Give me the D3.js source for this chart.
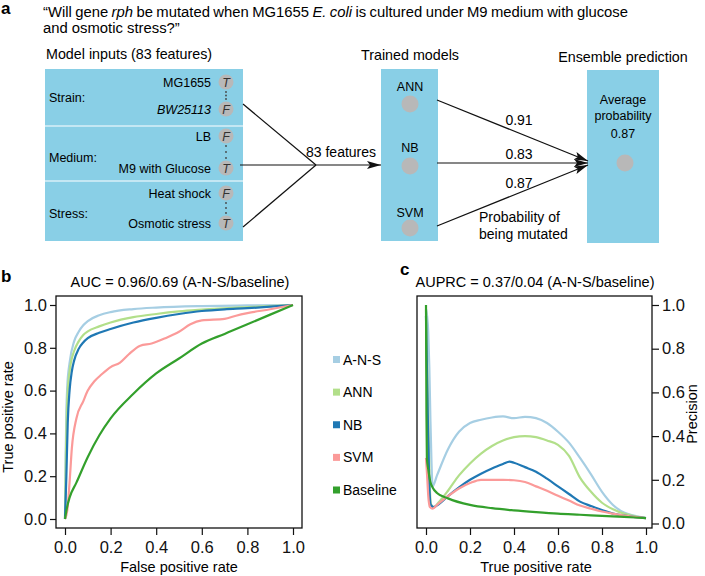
<!DOCTYPE html>
<html><head><meta charset="utf-8">
<script src="https://cdn.jsdelivr.net/npm/d3@7"></script>
<style>
body{margin:0;background:#fff;}
svg{display:block;font-family:"Liberation Sans",Arial,Helvetica,sans-serif;}
</style></head>
<body><svg id="fig" width="705" height="576"></svg>
<script>
// ---------- DATA ----------
const seriesNames = ["A-N-S","ANN","NB","SVM","Baseline"];
const seriesColors = ["#a6cee3","#b2df8a","#1f78b4","#fb9a99","#33a02c"];
const axisTicks = [0,0.2,0.4,0.6,0.8,1.0];
const aucTitle = "AUC = 0.96/0.69 (A-N-S/baseline)";
const auprcTitle = "AUPRC = 0.37/0.04 (A-N-S/baseline)";

// ROC curves: [false positive rate, true positive rate]
const rocANS = [[0,0],[0.003,0.3],[0.006,0.5],[0.01,0.62],[0.02,0.73],[0.04,0.83],[0.06,0.875],[0.08,0.905],[0.1,0.925],[0.15,0.952],[0.2,0.967],[0.3,0.981],[0.4,0.988],[0.6,0.995],[0.8,0.998],[1,1]];
const rocANN = [[0,0],[0.004,0.3],[0.008,0.5],[0.012,0.6],[0.02,0.69],[0.04,0.785],[0.06,0.83],[0.08,0.86],[0.1,0.877],[0.15,0.9],[0.2,0.918],[0.3,0.943],[0.4,0.958],[0.5,0.97],[0.6,0.978],[0.8,0.99],[1,1]];
const rocNB = [[0,0],[0.006,0.2],[0.012,0.45],[0.02,0.6],[0.03,0.69],[0.04,0.74],[0.06,0.795],[0.08,0.825],[0.1,0.845],[0.15,0.87],[0.2,0.888],[0.3,0.918],[0.4,0.94],[0.5,0.958],[0.6,0.972],[0.7,0.98],[0.8,0.985],[0.9,0.992],[1,1]];
const rocSVM = [[0,0],[0.01,0.04],[0.02,0.17],[0.03,0.33],[0.05,0.47],[0.08,0.55],[0.1,0.6],[0.13,0.645],[0.16,0.675],[0.2,0.71],[0.24,0.73],[0.28,0.77],[0.33,0.81],[0.38,0.82],[0.44,0.845],[0.5,0.875],[0.55,0.91],[0.6,0.928],[0.7,0.935],[0.75,0.95],[0.8,0.962],[0.9,0.98],[1,1]];
const rocBaseline = [[0,0],[0.01,0.06],[0.02,0.1],[0.05,0.17],[0.1,0.29],[0.15,0.39],[0.2,0.47],[0.3,0.585],[0.4,0.68],[0.5,0.75],[0.6,0.82],[0.7,0.865],[0.8,0.91],[0.9,0.955],[1,1]];

// PR curves: [true positive rate (recall), precision]
const prANS = [[0,0.98],[0.005,0.95],[0.01,0.88],[0.015,0.72],[0.02,0.48],[0.025,0.28],[0.03,0.17],[0.05,0.22],[0.1,0.34],[0.15,0.42],[0.2,0.46],[0.25,0.475],[0.3,0.485],[0.35,0.49],[0.4,0.482],[0.45,0.488],[0.5,0.482],[0.55,0.46],[0.6,0.42],[0.65,0.37],[0.7,0.3],[0.75,0.225],[0.8,0.145],[0.85,0.085],[0.9,0.05],[0.95,0.035],[1,0.025]];
const prANN = [[0,0.98],[0.008,0.6],[0.015,0.25],[0.022,0.09],[0.035,0.075],[0.06,0.1],[0.1,0.15],[0.15,0.22],[0.2,0.275],[0.25,0.32],[0.3,0.355],[0.35,0.38],[0.4,0.395],[0.45,0.4],[0.5,0.395],[0.55,0.38],[0.6,0.36],[0.65,0.31],[0.7,0.21],[0.75,0.145],[0.8,0.095],[0.85,0.065],[0.9,0.045],[0.95,0.033],[1,0.025]];
const prNB = [[0,0.95],[0.008,0.5],[0.015,0.18],[0.022,0.085],[0.035,0.075],[0.06,0.09],[0.1,0.125],[0.15,0.165],[0.2,0.2],[0.25,0.228],[0.3,0.252],[0.35,0.272],[0.38,0.283],[0.4,0.278],[0.45,0.258],[0.5,0.237],[0.55,0.205],[0.6,0.17],[0.65,0.135],[0.7,0.1],[0.75,0.08],[0.8,0.062],[0.85,0.045],[0.9,0.036],[1,0.025]];
const prSVM = [[0,0.3],[0.005,0.22],[0.01,0.13],[0.018,0.075],[0.03,0.068],[0.05,0.085],[0.1,0.125],[0.15,0.16],[0.2,0.185],[0.25,0.2],[0.3,0.2],[0.35,0.2],[0.4,0.198],[0.45,0.19],[0.5,0.17],[0.55,0.15],[0.6,0.127],[0.65,0.105],[0.7,0.082],[0.75,0.068],[0.8,0.055],[0.85,0.045],[0.9,0.036],[1,0.025]];
const prBaseline = [[0,1.0],[0.002,0.5],[0.004,0.3],[0.01,0.25],[0.02,0.19],[0.03,0.165],[0.05,0.14],[0.1,0.115],[0.2,0.085],[0.3,0.07],[0.4,0.06],[0.5,0.052],[0.6,0.045],[0.7,0.04],[0.8,0.035],[0.9,0.03],[1,0.025]];

const rocSeries = [rocANS, rocANN, rocNB, rocSVM, rocBaseline];
const prSeries = [prANS, prANN, prNB, prSVM, prBaseline];

// Panel a text content
const questionLine1 = [["\u201cWill",0],["gene",0],["rph",1],["be",0],["mutated",0],["when",0],["MG1655",0],["E.",1],["coli",1],["is",0],["cultured",0],["under",0],["M9",0],["medium",0],["with",0],["glucose",0]];
const questionLine2 = "and osmotic stress?\u201d";
const inputGroups = ["Strain:","Medium:","Stress:"];
const inputRows = [
  {label:"MG1655", val:"T", italic:false},
  {label:"BW25113", val:"F", italic:true},
  {label:"LB", val:"F", italic:false},
  {label:"M9 with Glucose", val:"T", italic:false},
  {label:"Heat shock", val:"F", italic:false},
  {label:"Osmotic stress", val:"T", italic:false}
];
const modelNames = ["ANN","NB","SVM"];
const modelProbs = ["0.91","0.83","0.87"];
const ensembleValue = "0.87";

// ---------- DRAW ----------
const svg = d3.select("#fig");
const BLUE = "#89cfe6", GREY = "#b8b8b8";
const TICKFONT = 16.5;

// ===== Panel a =====
svg.append("text").attr("x",1).attr("y",14).attr("font-weight","bold").attr("font-size",17).text("a");
{
  // size the question so the second line spans x 43..180, then justify line 1 to 43..628
  const l2 = svg.append("text").attr("x",43).attr("y",33).attr("font-size",15).text(questionLine2);
  const w2 = l2.node().getComputedTextLength();
  const qs = Math.max(13, Math.min(18, 15 * 137 / w2));
  l2.attr("font-size", qs);
  const x0 = 43, x1 = 628;
  const nodes = questionLine1.map(([w,it]) => svg.append("text").attr("y",17).attr("font-size",qs)
      .attr("font-style", it ? "italic" : null).text(w));
  const widths = nodes.map(n => n.node().getComputedTextLength());
  const gap = Math.max(2, (x1 - x0 - d3.sum(widths)) / (nodes.length - 1));
  let x = x0;
  nodes.forEach((n,i) => { n.attr("x", x); x += widths[i] + gap; });
}

svg.append("text").attr("x",46).attr("y",59).attr("font-size",14.3).text("Model inputs (83 features)");
svg.append("text").attr("x",410).attr("y",60).attr("text-anchor","middle").attr("font-size",14.3).text("Trained models");
svg.append("text").attr("x",623).attr("y",62).attr("text-anchor","middle").attr("font-size",14.3).text("Ensemble prediction");

// left box
svg.append("rect").attr("x",45).attr("y",69).attr("width",198).attr("height",172).attr("fill",BLUE);
[126,181].forEach(y=>svg.append("line").attr("x1",45).attr("x2",243).attr("y1",y).attr("y2",y).attr("stroke","#fff").attr("stroke-width",1.2));
const groupY = [97,157,213];
inputGroups.forEach((g,i)=>svg.append("text").attr("x",49).attr("y",groupY[i]+4.5).attr("font-size",12.5).text(g));
const rowY = [82,109,136,168,193,223];
inputRows.forEach((r,i)=>{
  svg.append("text").attr("x",211).attr("y",rowY[i]+4.5).attr("text-anchor","end").attr("font-size",12.5)
    .attr("font-style",r.italic?"italic":null).text(r.label);
  svg.append("circle").attr("cx",226).attr("cy",rowY[i]).attr("r",7.5).attr("fill",GREY);
  svg.append("text").attr("x",226).attr("y",rowY[i]+4.5).attr("text-anchor","middle").attr("font-size",12.5)
    .attr("font-style","italic").attr("fill","#333").text(r.val);
});
[[0,1],[2,3],[4,5]].forEach(([a,b])=>{
  const y0=rowY[a]+10, y1=rowY[b]-10;
  [0,1,2].forEach(k=>svg.append("circle").attr("cx",226).attr("cy",y0+(y1-y0)*k/2).attr("r",0.9).attr("fill","#444"));
});

// arrowhead marker
const defs = svg.append("defs");
defs.append("marker").attr("id","arr").attr("viewBox","0 0 14 8").attr("refX",14).attr("refY",4)
  .attr("markerWidth",14).attr("markerHeight",8).attr("markerUnits","userSpaceOnUse").attr("orient","auto")
  .append("path").attr("d","M0,0 L14,4 L0,8 L3,4 Z").attr("fill","#111");

const junction = [316,165];
[[243,104],[240,165],[243,227]].forEach(p=>svg.append("line").attr("x1",p[0]).attr("y1",p[1]).attr("x2",junction[0]).attr("y2",junction[1]).attr("stroke","#111").attr("stroke-width",1.2));
svg.append("line").attr("x1",junction[0]).attr("y1",junction[1]).attr("x2",381).attr("y2",165).attr("stroke","#111").attr("stroke-width",1.2).attr("marker-end","url(#arr)");
svg.append("text").attr("x",306).attr("y",157).attr("font-size",14).text("83 features");

// trained models box
svg.append("rect").attr("x",381).attr("y",69).attr("width",57).attr("height",172).attr("fill",BLUE);
const modelTextY = [91,152,217], modelCircY = [104,166,228];
modelNames.forEach((m,i)=>{
  svg.append("text").attr("x",410).attr("y",modelTextY[i]).attr("text-anchor","middle").attr("font-size",12.5).text(m);
  svg.append("circle").attr("cx",410).attr("cy",modelCircY[i]).attr("r",8.5).attr("fill",GREY);
});

// ensemble box
svg.append("rect").attr("x",587).attr("y",70).attr("width",72).attr("height",173).attr("fill",BLUE);
svg.append("text").attr("x",623).attr("y",104).attr("text-anchor","middle").attr("font-size",12.5).text("Average");
svg.append("text").attr("x",623).attr("y",120).attr("text-anchor","middle").attr("font-size",12.5).text("probability");
svg.append("text").attr("x",623).attr("y",138).attr("text-anchor","middle").attr("font-size",12.5).text(ensembleValue);
svg.append("circle").attr("cx",625).attr("cy",163).attr("r",8.5).attr("fill",GREY);

const starts = [[437,100],[437,163],[437,226]];
const tipY = [161,163,165];
starts.forEach((s,i)=>svg.append("line").attr("x1",s[0]).attr("y1",s[1]).attr("x2",588).attr("y2",tipY[i])
  .attr("stroke","#111").attr("stroke-width",1.2).attr("marker-end","url(#arr)"));
const probY = [125,159,188];
modelProbs.forEach((p,i)=>svg.append("text").attr("x",519).attr("y",probY[i]).attr("text-anchor","middle").attr("font-size",14).text(p));
svg.append("text").attr("x",479).attr("y",222).attr("font-size",14).text("Probability of");
svg.append("text").attr("x",479).attr("y",239).attr("font-size",14).text("being mutated");

// ===== Panel b (ROC) =====
const xb = d3.scaleLinear().domain([0,1]).range([65,293]);
const yb = d3.scaleLinear().domain([0,1]).range([519,305]);
svg.append("text").attr("x",1).attr("y",282).attr("font-weight","bold").attr("font-size",17).text("b");
svg.append("text").attr("x",180).attr("y",287).attr("text-anchor","middle").attr("font-size",14.5).text(aucTitle);

function styleAxis(g){
  g.select(".domain").remove();
  g.selectAll(".tick line").attr("stroke","#111").attr("stroke-width",1.2);
  g.selectAll(".tick text").attr("font-size",TICKFONT).attr("fill","#111").attr("font-family","Liberation Sans, Arial, sans-serif");
}
const fmt = d3.format(".1f");
svg.append("g").attr("transform","translate(56,0)").call(d3.axisLeft(yb).tickValues(axisTicks).tickFormat(fmt).tickSize(6).tickPadding(3)).call(styleAxis);
svg.append("g").attr("transform","translate(0,528)").call(d3.axisBottom(xb).tickValues(axisTicks).tickFormat(fmt).tickSize(7).tickPadding(6)).call(styleAxis);

defs.append("clipPath").attr("id","clipb").append("rect").attr("x",56).attr("y",296).attr("width",246).attr("height",232);
const lineB = d3.line().x(d=>xb(d[0])).y(d=>yb(d[1])).curve(d3.curveMonotoneX);
const gb = svg.append("g").attr("clip-path","url(#clipb)");
rocSeries.forEach((s,i)=>gb.append("path").datum(s).attr("d",lineB).attr("fill","none").attr("stroke",seriesColors[i]).attr("stroke-width",2.2).attr("stroke-linejoin","round"));
svg.append("rect").attr("x",56).attr("y",296).attr("width",246).attr("height",232).attr("fill","none").attr("stroke","#111").attr("stroke-width",1.3);
svg.append("text").attr("x",179).attr("y",572).attr("text-anchor","middle").attr("font-size",14.5).text("False positive rate");
svg.append("text").attr("transform","translate(13,417) rotate(-90)").attr("text-anchor","middle").attr("font-size",14.5).text("True positive rate");

// legend
const legY = d3.scalePoint().domain(seriesNames).range([359.5,490]);
seriesNames.forEach((n,i)=>{
  svg.append("rect").attr("x",333).attr("y",legY(n)-3.5).attr("width",7).attr("height",7).attr("fill",seriesColors[i]);
  svg.append("text").attr("x",343).attr("y",legY(n)+5).attr("font-size",14).text(n);
});

// ===== Panel c (PR) =====
const xc = d3.scaleLinear().domain([0,1]).range([426,646]);
const yc = d3.scaleLinear().domain([0,1]).range([523.5,305]);
svg.append("text").attr("x",400).attr("y",275).attr("font-weight","bold").attr("font-size",17).text("c");
svg.append("text").attr("x",535).attr("y",287).attr("text-anchor","middle").attr("font-size",14.5).text(auprcTitle);
svg.append("g").attr("transform","translate(652,0)").call(d3.axisRight(yc).tickValues(axisTicks).tickFormat(fmt).tickSize(7).tickPadding(3)).call(styleAxis);
svg.append("g").attr("transform","translate(0,528)").call(d3.axisBottom(xc).tickValues(axisTicks).tickFormat(fmt).tickSize(7).tickPadding(6)).call(styleAxis);
defs.append("clipPath").attr("id","clipc").append("rect").attr("x",417).attr("y",296).attr("width",235).attr("height",232);
const lineC = d3.line().x(d=>xc(d[0])).y(d=>yc(d[1])).curve(d3.curveMonotoneX);
const gc = svg.append("g").attr("clip-path","url(#clipc)");
prSeries.forEach((s,i)=>gc.append("path").datum(s).attr("d",lineC).attr("fill","none").attr("stroke",seriesColors[i]).attr("stroke-width",2.2).attr("stroke-linejoin","round"));
svg.append("rect").attr("x",417).attr("y",296).attr("width",235).attr("height",232).attr("fill","none").attr("stroke","#111").attr("stroke-width",1.3);
svg.append("text").attr("x",536).attr("y",572).attr("text-anchor","middle").attr("font-size",14.5).text("True positive rate");
svg.append("text").attr("transform","translate(697,414) rotate(-90)").attr("text-anchor","middle").attr("font-size",14.5).text("Precision");
</script></body></html>
